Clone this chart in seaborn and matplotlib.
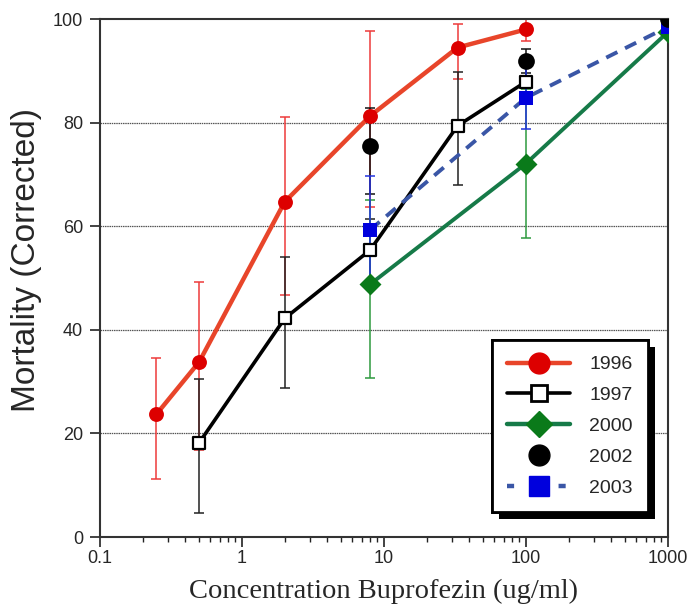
import numpy as np
import pandas as pd
import matplotlib
matplotlib.use("Agg")
import matplotlib.pyplot as plt
import matplotlib.patheffects as pe
from matplotlib.lines import Line2D
from matplotlib.ticker import LogLocator, NullFormatter
import seaborn as sns

# ---- data ----
x1996 = [0.25, 0.5, 2, 8, 33, 100]
y1996 = [23.7, 33.8, 64.7, 81.3, 94.5, 98.0]
lo1996 = [12.5, 17.0, 18.0, 17.5, 6.0, 2.2]
hi1996 = [10.8, 15.4, 16.4, 16.4, 4.5, 2.0]

x1997 = [0.5, 2, 8, 33, 100]
y1997 = [18.2, 42.2, 55.4, 79.4, 87.9]
lo1997 = [13.6, 13.4, 6.5, 11.4, 3.0]
hi1997 = [12.4, 11.8, 6.0, 10.4, 3.0]

x2000 = [8, 100, 1000]
y2000 = [48.8, 72.1, 97.5]
lo2000 = [18.1, 14.3, 0.0]
hi2000 = [16.2, 14.3, 0.0]

x2002 = [8, 100, 1000]
y2002 = [75.5, 91.9, 100.0]
lo2002 = [9.3, 2.3, 0.0]
hi2002 = [7.3, 2.3, 0.0]

x2003 = [8, 100, 1000]
y2003 = [59.3, 84.8, 98.5]
lo2003 = [10.4, 6.1, 0.0]
hi2003 = [10.4, 6.1, 0.0]

xticks = [0.1, 1, 10, 100, 1000]
xticklabels = ["0.1", "1", "10", "100", "1000"]
yticks = [0, 20, 40, 60, 80, 100]

# ---- style ----
sns.set_style("ticks")
plt.rcParams["font.family"] = ["Liberation Sans", "DejaVu Sans"]

fig = plt.figure(figsize=(6.89, 6.14), dpi=100)
ax = fig.add_axes([0.145, 0.1254, 0.8245, 0.8436])

def errs(ax, x, y, lo, hi, color, z):
    ax.errorbar(x, y, yerr=[lo, hi], fmt="none", ecolor=color, elinewidth=1.1,
                capsize=3.5, capthick=1.1, zorder=z)

errs(ax, x1996, y1996, lo1996, hi1996, "#ee3b3b", 2)
errs(ax, x1997, y1997, lo1997, hi1997, "#222222", 2)
errs(ax, x2000, y2000, lo2000, hi2000, "#2e9a3e", 2)
errs(ax, x2002, y2002, lo2002, hi2002, "#111111", 2)
errs(ax, x2003, y2003, lo2003, hi2003, "#2233dd", 2)

df96 = pd.DataFrame({"x": x1996, "y": y1996})
df97 = pd.DataFrame({"x": x1997, "y": y1997})
df00 = pd.DataFrame({"x": x2000, "y": y2000})
df02 = pd.DataFrame({"x": x2002, "y": y2002})
df03 = pd.DataFrame({"x": x2003, "y": y2003})

# lines
sns.lineplot(data=df96, x="x", y="y", ax=ax, color="#e8452a", lw=3.2, zorder=3)
sns.lineplot(data=df97, x="x", y="y", ax=ax, color="black", lw=2.6, zorder=3)
sns.lineplot(data=df00, x="x", y="y", ax=ax, color="#167a48", lw=2.8, zorder=3)
sns.lineplot(data=df03, x="x", y="y", ax=ax, color="#3a56a6", lw=2.8, zorder=3,
             dashes=False, linestyle=(0, (3.2, 2.2)))

# markers
sns.scatterplot(data=df96, x="x", y="y", ax=ax, color="#dd0000", s=115, marker="o",
                edgecolor="#dd0000", linewidth=0, zorder=5)
sns.scatterplot(data=df97, x="x", y="y", ax=ax, color="white", s=80, marker="s",
                edgecolor="black", linewidth=1.6, zorder=5)
sns.scatterplot(data=df00, x="x", y="y", ax=ax, color="#0a7a1a", s=125, marker="D",
                edgecolor="#0a7a1a", linewidth=0, zorder=5)
sns.scatterplot(data=df02, x="x", y="y", ax=ax, color="black", s=145, marker="o",
                edgecolor="black", linewidth=0, zorder=6)
sns.scatterplot(data=df03, x="x", y="y", ax=ax, color="#0000dd", s=88, marker="s",
                edgecolor="#0000dd", linewidth=0, zorder=5)

ax.set_xscale("log")
ax.set_xlim(0.1, 1000)
ax.set_ylim(0, 100)
ax.set_xticks(xticks)
ax.set_xticklabels(xticklabels)
ax.xaxis.set_minor_locator(LogLocator(base=10, subs=np.arange(2, 10)))
ax.xaxis.set_minor_formatter(NullFormatter())
ax.set_yticks(yticks)
ax.tick_params(axis="both", which="major", direction="out", length=7, width=1.2,
               labelsize=13, color="#222222")
ax.tick_params(axis="y", which="major", pad=5)
ax.tick_params(axis="x", which="major", pad=2)
ax.tick_params(axis="x", which="minor", direction="out", length=3.5, width=1.0,
               color="#222222")

for sp in ax.spines.values():
    sp.set_linewidth(1.5)
    sp.set_color("#333333")
    sp.set_visible(True)

for g in [20, 40, 60, 80]:
    ax.axhline(g, color="#555555", lw=0.9, ls=(0, (1.2, 0.6)), zorder=1)

ax.set_xlabel("Concentration Buprofezin (ug/ml)", family=["Liberation Serif"],
              fontsize=20.5, labelpad=9)
ax.set_ylabel("Mortality (Corrected)", fontsize=24, labelpad=8)
ax.yaxis.label.set_y(0.535)

handles = [
    Line2D([], [], color="#e8452a", lw=3.2, marker="o", markersize=15,
           markerfacecolor="#dd0000", markeredgecolor="#dd0000"),
    Line2D([], [], color="black", lw=2.6, marker="s", markersize=12,
           markerfacecolor="white", markeredgecolor="black", markeredgewidth=2),
    Line2D([], [], color="#167a48", lw=3.2, marker="D", markersize=13,
           markerfacecolor="#0a7a1a", markeredgecolor="#0a7a1a"),
    Line2D([], [], color="none", marker="o", markersize=15,
           markerfacecolor="black", markeredgecolor="black"),
    Line2D([], [], color="#3a56a6", lw=3.2, ls=(0, (1.6, 4.2)), marker="s", markersize=14,
           markerfacecolor="#0000dd", markeredgecolor="#0000dd"),
]
labels = ["1996", "1997", "2000", "2002", "2003"]
leg = ax.legend(handles, labels, loc="upper left", bbox_to_anchor=(0.69, 0.38),
                borderaxespad=0, fontsize=14, frameon=True, fancybox=False,
                handlelength=3.2, handletextpad=1.0, labelspacing=0.68,
                borderpad=0.8)
leg.get_frame().set_edgecolor("black")
leg.get_frame().set_linewidth(2)
leg.get_frame().set_alpha(1)
leg.legendPatch.set_path_effects([pe.withSimplePatchShadow(offset=(5, -5),
                                  shadow_rgbFace="black", alpha=1.0), pe.Normal()])
leg.set_zorder(10)

fig.savefig("out.png", dpi=100)
